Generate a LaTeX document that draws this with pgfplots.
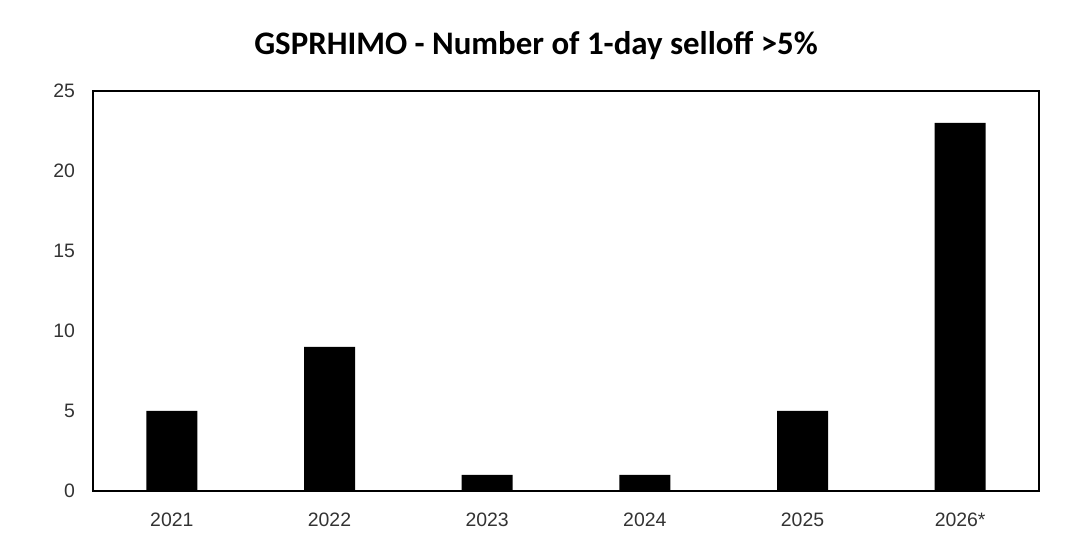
\documentclass[border=0pt]{standalone}
\usepackage{pgfplots}
\pgfplotsset{compat=1.18}
\usepackage{fontspec}
\setmainfont{Liberation Sans}
\newfontfamily\titlefont{Carlito}
\definecolor{ticktxt}{HTML}{333333}
\begin{document}
\begin{tikzpicture}[x=1bp,y=1bp]
\useasboundingbox (0,0) rectangle (1080,548);
\node[anchor=base, font=\titlefont\bfseries\fontsize{33}{38}\selectfont] at (536,493) {GSPRHIMO - Number of 1-day selloff >5\%};
\begin{axis}[
  at={(93bp,57bp)}, anchor=south west,
  scale only axis, width=946bp, height=400bp,
  xmin=-0.5, xmax=5.5, ymin=0, ymax=25,
  ytick={0,5,10,15,20,25},
  xtick={0,1,2,3,4,5},
  xticklabels={2021,2022,2023,2024,2025,2026*},
  major tick length=0pt,
  axis line style={line width=1.5bp, black},
  tick label style={font=\fontsize{19.5}{23}\selectfont, text=ticktxt},
  /pgf/number format/assume math mode=true,
  yticklabel style={xshift=-14.5bp},
  xticklabel style={anchor=base, yshift=-36bp},
  ybar, bar width=51bp,
  axis on top,
]
\addplot[fill=black, draw=none, bar shift=0pt] coordinates {(0,5) (1,9) (2,1) (3,1) (4,5) (5,23)};
\end{axis}
\end{tikzpicture}
\end{document}
